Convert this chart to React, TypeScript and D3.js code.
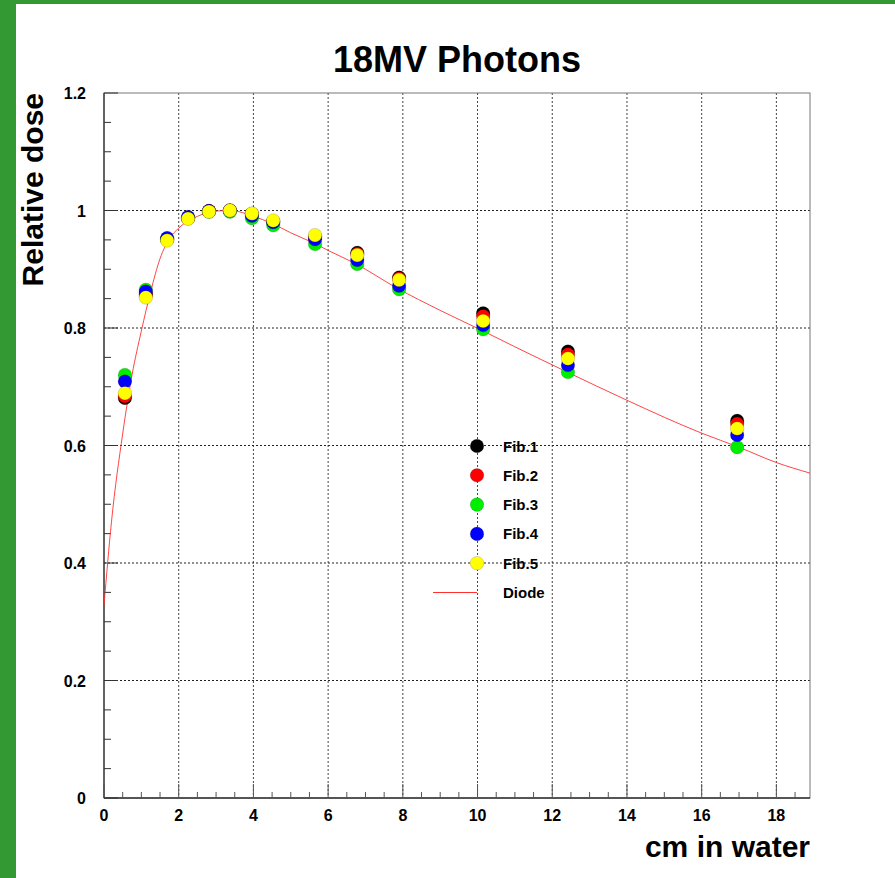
import React from "react";
import * as d3 from "d3";

const depth = [0.56, 1.12, 1.69, 2.25, 2.81, 3.37, 3.96, 4.53, 5.65, 6.78, 7.9, 10.15, 12.42, 16.95];
const fib1 = [0.681, 0.857, 0.951, 0.987, 0.999, 1.0, 0.994, 0.981, 0.955, 0.928, 0.886, 0.825, 0.76, 0.642];
const fib2 = [0.684, 0.857, 0.951, 0.987, 0.999, 1.0, 0.994, 0.981, 0.955, 0.926, 0.884, 0.82, 0.755, 0.637];
const fib3 = [0.72, 0.865, 0.951, 0.988, 0.998, 0.998, 0.987, 0.975, 0.943, 0.909, 0.866, 0.798, 0.725, 0.597];
const fib4 = [0.709, 0.862, 0.953, 0.989, 0.999, 1.0, 0.991, 0.98, 0.951, 0.916, 0.872, 0.805, 0.737, 0.618];
const fib5 = [0.689, 0.852, 0.949, 0.986, 0.998, 1.0, 0.995, 0.983, 0.958, 0.924, 0.882, 0.812, 0.748, 0.629];

const diodeX = [0, 0.2, 0.5, 0.75, 1.0, 1.25, 1.5, 1.75, 2.0, 2.5, 3.0, 3.4, 4.0, 4.5, 5.0, 5.6, 6.0, 6.72, 7.84, 9.0, 10.08, 11.0, 12.4, 14.0, 16.0, 17.0, 18.0, 18.9];
const diodeY = [0.328, 0.47, 0.62, 0.72, 0.795, 0.862, 0.918, 0.952, 0.97, 0.99, 0.999, 1.0, 0.99, 0.978, 0.962, 0.945, 0.932, 0.91, 0.868, 0.83, 0.797, 0.768, 0.725, 0.677, 0.621, 0.597, 0.571, 0.553];

const seriesNames = ["Fib.1", "Fib.2", "Fib.3", "Fib.4", "Fib.5"];
const seriesColors = ["#000000", "#ff0000", "#00ee00", "#0000ff", "#ffff00"];
const seriesData = [fib1, fib2, fib3, fib4, fib5];

const xTicks = [0, 2, 4, 6, 8, 10, 12, 14, 16, 18];
const yTicks = [0, 0.2, 0.4, 0.6, 0.8, 1, 1.2];

export default function App() {
  const W = 895, H = 878;
  const L = 104, R = 810, T = 93, B = 798;
  const x = d3.scaleLinear().domain([0, 18.9]).range([L, R]);
  const y = d3.scaleLinear().domain([0, 1.2]).range([B, T]);
  const font = "'Liberation Sans', Arial, Helvetica, sans-serif";

  const xMinor = d3.range(0, 18.9 + 1e-9, 0.5).filter((v) => Math.abs(v % 2) > 1e-6);
  const yMinor = d3.range(0, 1.2 + 1e-9, 0.05).filter((v) => Math.abs((v / 0.2) - Math.round(v / 0.2)) > 1e-6);

  const line = d3
    .line<number>()
    .x((_, i) => x(diodeX[i]))
    .y((d) => y(d))
    .curve(d3.curveMonotoneX);

  const legX = 477, legY0 = 446, legDy = 29.3, legTextX = 503;

  return (
    <svg width={W} height={H} style={{ position: "absolute", left: 0, top: 0, background: "#fff" }} fontFamily={font}>
      <rect x={0} y={0} width={W} height={H} fill="#fff" />
      <rect x={0} y={0} width={16} height={H} fill="#339933" />
      <rect x={0} y={0} width={W} height={4} fill="#339933" />
      <defs>
        <clipPath id="plotclip">
          <rect x={L} y={T} width={R - L} height={B - T} />
        </clipPath>
      </defs>
      {/* grid */}
      {xTicks.filter((v) => v > 0).map((v) => (
        <line key={"gx" + v} x1={x(v)} x2={x(v)} y1={T} y2={B} stroke="#444" strokeWidth={1} strokeDasharray="2,2" />
      ))}
      {yTicks.filter((v) => v > 0 && v < 1.2).map((v) => (
        <line key={"gy" + v} x1={L} x2={R} y1={y(v)} y2={y(v)} stroke="#222" strokeWidth={1} strokeDasharray="2,2" />
      ))}
      {/* frame */}
      <rect x={L} y={T} width={R - L} height={B - T} fill="none" stroke="#777" strokeWidth={1} />
      <line x1={L} x2={L} y1={T} y2={B} stroke="#333" strokeWidth={1.3} />
      <line x1={L} x2={R} y1={B} y2={B} stroke="#333" strokeWidth={1.3} />
      {/* ticks */}
      {xTicks.map((v) => (
        <line key={"xt" + v} x1={x(v)} x2={x(v)} y1={B} y2={B - 14} stroke="#555" />
      ))}
      {xMinor.map((v) => (
        <line key={"xm" + v} x1={x(v)} x2={x(v)} y1={B} y2={B - 6} stroke="#555" />
      ))}
      {yTicks.map((v) => (
        <line key={"yt" + v} x1={L} x2={L + 14} y1={y(v)} y2={y(v)} stroke="#333" />
      ))}
      {yMinor.map((v) => (
        <line key={"ym" + v} x1={L} x2={L + 7} y1={y(v)} y2={y(v)} stroke="#333" />
      ))}
      {/* tick labels */}
      {xTicks.map((v) => (
        <text key={"xl" + v} x={x(v)} y={B + 23} textAnchor="middle" fontSize={16} fontWeight="bold">
          {v}
        </text>
      ))}
      {yTicks.map((v) => (
        <text key={"yl" + v} x={86} y={y(v) + 6} textAnchor="end" fontSize={16} fontWeight="bold">
          {v === 0 ? "0" : d3.format("~g")(v)}
        </text>
      ))}
      {/* diode curve */}
      <path d={line(diodeY) || ""} fill="none" stroke="#ff3030" strokeWidth={0.9} clipPath="url(#plotclip)" />
      {/* points */}
      {seriesData.map((s, si) =>
        s.map((v, i) => (
          <circle key={"p" + si + "-" + i} cx={x(depth[i])} cy={y(v)} r={6.8} fill={seriesColors[si]} stroke="rgba(0,0,0,0.25)" strokeWidth={0.6} />
        ))
      )}
      {/* legend */}
      {seriesNames.map((n, i) => (
        <g key={"lg" + n}>
          <circle cx={legX} cy={legY0 + i * legDy} r={6.8} fill={seriesColors[i]} stroke="rgba(0,0,0,0.25)" strokeWidth={0.6} />
          <text x={legTextX} y={legY0 + i * legDy + 5.5} fontSize={15} fontWeight="bold">
            {n}
          </text>
        </g>
      ))}
      <line x1={433} x2={477} y1={legY0 + 5 * legDy} y2={legY0 + 5 * legDy} stroke="#ff3030" strokeWidth={1} />
      <text x={legTextX} y={legY0 + 5 * legDy + 5.5} fontSize={15} fontWeight="bold">
        Diode
      </text>
      {/* titles */}
      <text x={457} y={72} textAnchor="middle" fontSize={36} fontWeight="bold">
        18MV Photons
      </text>
      <text x={R} y={857} textAnchor="end" fontSize={30} fontWeight="bold">
        cm in water
      </text>
      <text transform={`translate(43,${T}) rotate(-90)`} textAnchor="end" fontSize={30} fontWeight="bold">
        Relative dose
      </text>
    </svg>
  );
}
